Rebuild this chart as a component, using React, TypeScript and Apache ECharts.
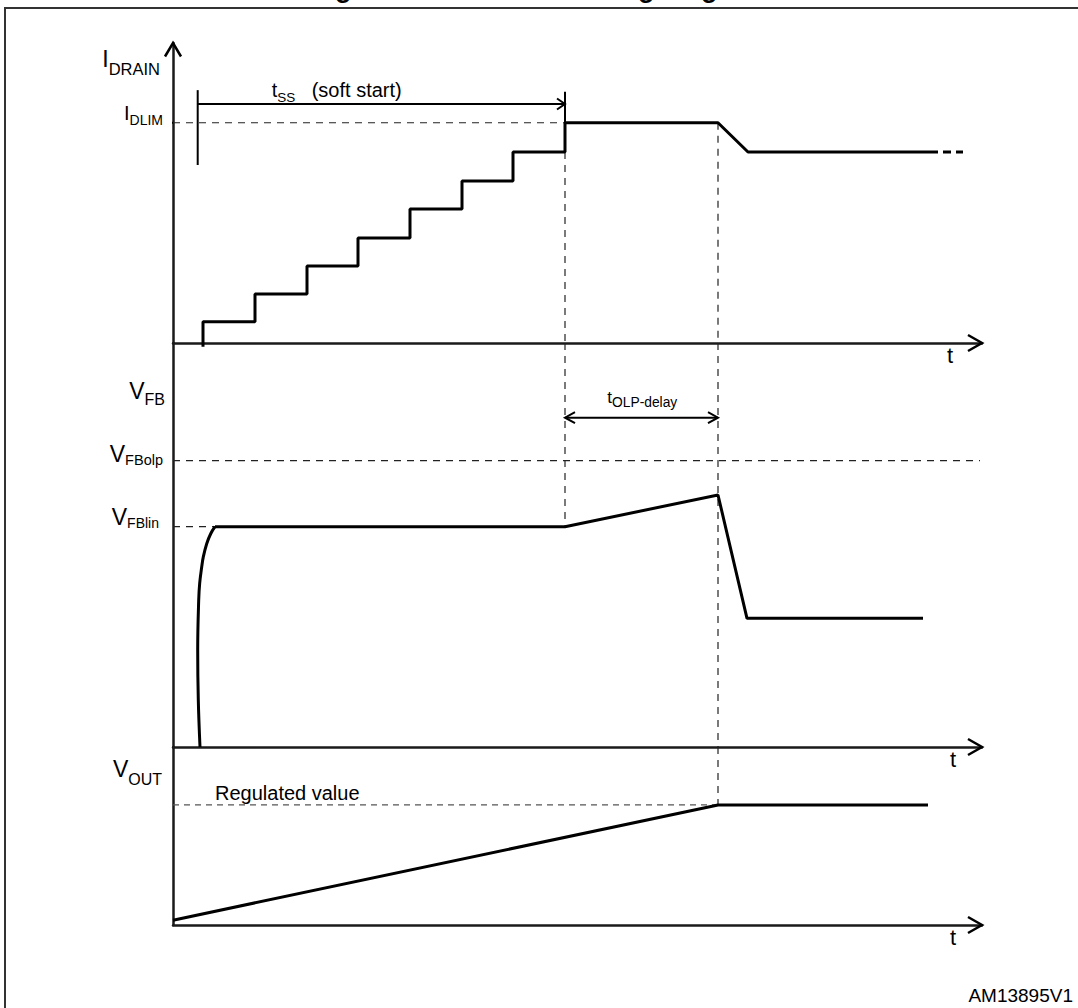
import React, { useEffect, useRef } from "react";
import * as echarts from "echarts";

const FONT = '"Liberation Sans", Arial, Helvetica, sans-serif';
const CENTRAL = 0.35; // distance from alphabetic baseline to central baseline (em)

// ---------- time axis (arbitrary units) ----------
const T_MAX = 80.9;
const T_SS_START = 2.47;
const T_SS_END = 39.2;
const T_OLP_END = 54.5;

// ---------- panel 1 : I_DRAIN, % of I_DLIM ----------
const I_MAX = 136.2;
const I_DLIM = 100;
const drainT = [3.0, 3.0, 8.2, 8.2, 13.4, 13.4, 18.5, 18.5, 23.7, 23.7, 28.9, 28.9, 34.0, 34.0, 39.2, 39.2, 54.5, 57.5, 75.7];
const drainI = [-1.7, 9.7, 9.7, 22.2, 22.2, 35.0, 35.0, 47.7, 47.7, 60.8, 60.8, 73.5, 73.5, 86.7, 86.7, 100, 100, 86.7, 86.7];
const drainTailT = [75.7, 79.0];
const drainTailI = [86.7, 86.7];

// ---------- panel 2 : V_FB, relative to V_FBlin ----------
const VFB_MAX = 1.834;
const V_FBLIN = 1.0;
const V_FBOLP = 1.3;
const vfbRiseT = [2.7, 2.53, 2.47, 2.57, 2.67, 2.87, 3.03, 3.37, 3.77, 4.2];
const vfbRiseV = [0, 0.213, 0.44, 0.667, 0.744, 0.817, 0.863, 0.923, 0.968, 1.0];
const vfbT = [4.2, 39.2, 54.5, 57.4, 75.0];
const vfbV = [1.0, 1.0, 1.144, 0.584, 0.584];

// ---------- panel 3 : V_OUT, relative to regulated value ----------
const VOUT_MAX = 1.483;
const V_REG = 1.0;
const voutT = [0, 54.5, 75.5];
const voutV = [0.04, 1.0, 1.0];

const zip = (a: number[], b: number[]) => a.map((x, i) => [x, b[i]]);

let measureCtx: CanvasRenderingContext2D | null = null;
function textWidth(text: string, size: number, weight = "normal") {
  if (!measureCtx) measureCtx = document.createElement("canvas").getContext("2d");
  measureCtx!.font = `${weight} ${size}px ${FONT}`;
  return measureCtx!.measureText(text).width;
}

type Part = { text: string; size: number; drop?: number; gap?: number };
type Label = { t: number; v: number; align: "left" | "right"; parts: Part[] };

const labelsA: Label[] = [
  { t: -1.3, v: 125.4, align: "right", parts: [{ text: "I", size: 23 }, { text: "DRAIN", size: 16.5, drop: 8 }] },
  { t: -1.0, v: 101.2, align: "right", parts: [{ text: "I", size: 20 }, { text: "DLIM", size: 14, drop: 5 }] },
  { t: 9.87, v: 111.8, align: "left", parts: [{ text: "t", size: 20 }, { text: "SS", size: 13.5, drop: 5 }] },
  { t: 13.87, v: 111.8, align: "left", parts: [{ text: "(soft start)", size: 20 }] },
  { t: 77.4, v: -9.08, align: "left", parts: [{ text: "t", size: 22 }] },
];
const labelsB: Label[] = [
  { t: -0.8, v: 1.578, align: "right", parts: [{ text: "V", size: 23 }, { text: "FB", size: 16, drop: 5.7 }] },
  { t: -1.0, v: 1.295, align: "right", parts: [{ text: "V", size: 23 }, { text: "FBolp", size: 14.5, drop: 3.3 }] },
  { t: -1.4, v: 1.008, align: "right", parts: [{ text: "V", size: 23 }, { text: "FBlin", size: 14, drop: 3.3 }] },
  { t: 43.43, v: 1.56, align: "left", parts: [{ text: "t", size: 17 }, { text: "OLP-delay", size: 13.8, drop: 4 }] },
  { t: 77.7, v: -0.091, align: "left", parts: [{ text: "t", size: 22 }] },
];
const labelsC: Label[] = [
  { t: -1.1, v: 1.236, align: "right", parts: [{ text: "V", size: 23 }, { text: "OUT", size: 16, drop: 8.3 }] },
  { t: 4.2, v: 1.042, align: "left", parts: [{ text: "Regulated value", size: 20 }] },
  { t: 77.7, v: -0.167, align: "left", parts: [{ text: "t", size: 22 }] },
];

type Head = { t: number; v: number; dir: "right" | "left" | "up"; len: number; half: number; w: number };
const headsA: Head[] = [
  { t: T_MAX, v: 0, dir: "right", len: 14, half: 8, w: 2.5 },
  { t: 0, v: I_MAX, dir: "up", len: 13.5, half: 8, w: 2.5 },
  { t: T_SS_END, v: 108.5, dir: "right", len: 8, half: 5.5, w: 2 },
];
const headsB: Head[] = [
  { t: T_MAX, v: 0, dir: "right", len: 14, half: 8, w: 2.5 },
  { t: T_SS_END, v: 1.495, dir: "left", len: 10, half: 5.5, w: 2 },
  { t: T_OLP_END, v: 1.495, dir: "right", len: 10, half: 5.5, w: 2 },
];
const headsC: Head[] = [{ t: T_MAX, v: 0, dir: "right", len: 14, half: 8, w: 2.5 }];

const seg = (grid: number, pts: number[][], style: any, z = 2, extra: any = {}) => ({
  type: "line",
  xAxisIndex: grid,
  yAxisIndex: grid,
  data: pts,
  symbol: "none",
  showSymbol: false,
  lineStyle: style,
  clip: false,
  silent: true,
  z,
  ...extra,
});

const TRACE = { color: "#000", width: 3 };
const DASH = { color: "#222", width: 1.2, type: [7, 6] };
const THIN = { color: "#000", width: 2 };

const chevrons = (grid: number, heads: Head[]) => ({
  type: "custom",
  xAxisIndex: grid,
  yAxisIndex: grid,
  clip: false,
  silent: true,
  z: 5,
  data: heads.map((h) => [h.t, h.v]),
  renderItem: (params: any, api: any) => {
    const h = heads[params.dataIndex];
    const [px, py] = api.coord([api.value(0), api.value(1)]);
    let pts: number[][];
    if (h.dir === "right") pts = [[px - h.len, py - h.half], [px, py], [px - h.len, py + h.half]];
    else if (h.dir === "left") pts = [[px + h.len, py - h.half], [px, py], [px + h.len, py + h.half]];
    else pts = [[px - h.half, py + h.len], [px, py], [px + h.half, py + h.len]];
    return { type: "polyline", shape: { points: pts }, style: { stroke: "#000", lineWidth: h.w, fill: "none" } };
  },
});

const labelSeries = (grid: number, labels: Label[]) => ({
  type: "custom",
  xAxisIndex: grid,
  yAxisIndex: grid,
  clip: false,
  silent: true,
  z: 6,
  data: labels.map((l) => [l.t, l.v]),
  renderItem: (params: any, api: any) => {
    const lbl = labels[params.dataIndex];
    const [ax, ay] = api.coord([lbl.t, lbl.v]);
    const widths = lbl.parts.map((p) => textWidth(p.text, p.size) + (p.gap || 0));
    const total = widths.reduce((a, b) => a + b, 0);
    let x = lbl.align === "right" ? ax - total : ax;
    const children = lbl.parts.map((p) => {
      x += p.gap || 0;
      const el = {
        type: "text",
        x,
        y: ay + (p.drop || 0) - CENTRAL * p.size,
        style: { text: p.text, fontSize: p.size, fontFamily: FONT, fill: "#000", align: "left", verticalAlign: "middle" },
      };
      x += textWidth(p.text, p.size);
      return el;
    });
    return { type: "group", children };
  },
});

const axisX = (grid: number) => ({
  type: "value",
  gridIndex: grid,
  min: 0,
  max: T_MAX,
  axisLine: { show: true, onZero: false, lineStyle: { color: "#1a1a1a", width: 2.5 } },
  axisTick: { show: false },
  axisLabel: { show: false },
  splitLine: { show: false },
});
const axisY = (grid: number, max: number) => ({
  type: "value",
  gridIndex: grid,
  min: 0,
  max,
  axisLine: { show: true, onZero: false, lineStyle: { color: "#1a1a1a", width: 2.5 } },
  axisTick: { show: false },
  axisLabel: { show: false },
  splitLine: { show: false },
});

export default function App() {
  const ref = useRef<HTMLDivElement>(null);
  useEffect(() => {
    document.body.style.margin = "0";
    const chart = echarts.init(ref.current!, null, { renderer: "svg" });
    chart.setOption({
      animation: false,
      backgroundColor: "#fff",
      grid: [
        { left: 173, top: 43, width: 809, height: 300 },
        { left: 173, top: 343, width: 809, height: 404 },
        { left: 173, top: 747, width: 809, height: 178 },
      ],
      xAxis: [axisX(0), axisX(1), axisX(2)],
      yAxis: [axisY(0, I_MAX), axisY(1, VFB_MAX), axisY(2, VOUT_MAX)],
      graphic: [
        {
          type: "rect",
          shape: { x: 5, y: 8, width: 1200, height: 1200 },
          style: { fill: "none", stroke: "#333", lineWidth: 2 },
          silent: true,
        },
        {
          type: "text",
          x: 539,
          y: -3 - CENTRAL * 27,
          style: {
            text: "Figure 10. Soft-start timing diagram",
            fontSize: 27,
            fontWeight: "bold",
            fontFamily: FONT,
            fill: "#000",
            align: "center",
            verticalAlign: "middle",
          },
          silent: true,
        },
        {
          type: "text",
          x: 1073,
          y: 1002 - CENTRAL * 19,
          style: { text: "AM13895V1", fontSize: 19, fontFamily: FONT, fill: "#000", align: "right", verticalAlign: "middle" },
          silent: true,
        },
      ],
      series: [
        // ---- panel 1 ----
        seg(0, [[0, I_DLIM], [T_SS_END, I_DLIM]], DASH, 1),
        seg(0, [[-1.3, I_DLIM], [0, I_DLIM]], THIN, 2),
        seg(0, [[T_SS_END, 86.7], [T_SS_END, 0]], DASH, 1),
        seg(0, [[T_OLP_END, I_DLIM], [T_OLP_END, 0]], DASH, 1),
        seg(0, [[T_SS_START, 80.8], [T_SS_START, 114.8]], THIN, 2),
        seg(0, [[T_SS_END, 114.1], [T_SS_END, I_DLIM]], THIN, 2),
        seg(0, [[T_SS_START, 108.5], [T_SS_END, 108.5]], THIN, 2),
        seg(0, zip(drainT, drainI), TRACE, 3),
        seg(0, zip(drainTailT, drainTailI), { color: "#000", width: 3, type: [8, 5] }, 3),
        chevrons(0, headsA),
        labelSeries(0, labelsA),
        // ---- panel 2 ----
        seg(1, [[0, V_FBOLP], [80.7, V_FBOLP]], DASH, 1),
        seg(1, [[0, V_FBLIN], [4.2, V_FBLIN]], DASH, 1),
        seg(1, [[T_SS_END, VFB_MAX], [T_SS_END, V_FBLIN]], DASH, 1),
        seg(1, [[T_OLP_END, VFB_MAX], [T_OLP_END, 0]], DASH, 1),
        seg(1, [[T_SS_END, 1.495], [T_OLP_END, 1.495]], THIN, 2),
        seg(1, zip(vfbRiseT, vfbRiseV), TRACE, 3, { smooth: 0.4 }),
        seg(1, zip(vfbT, vfbV), TRACE, 3),
        chevrons(1, headsB),
        labelSeries(1, labelsB),
        // ---- panel 3 ----
        seg(2, [[0, V_REG], [T_OLP_END, V_REG]], { color: "#555", width: 1.2, type: [6, 5] }, 1),
        seg(2, [[T_OLP_END, VOUT_MAX], [T_OLP_END, V_REG]], DASH, 1),
        seg(2, zip(voutT, voutV), TRACE, 3),
        chevrons(2, headsC),
        labelSeries(2, labelsC),
      ],
    });
    return () => chart.dispose();
  }, []);
  return <div ref={ref} style={{ width: 1078, height: 1008 }} />;
}
